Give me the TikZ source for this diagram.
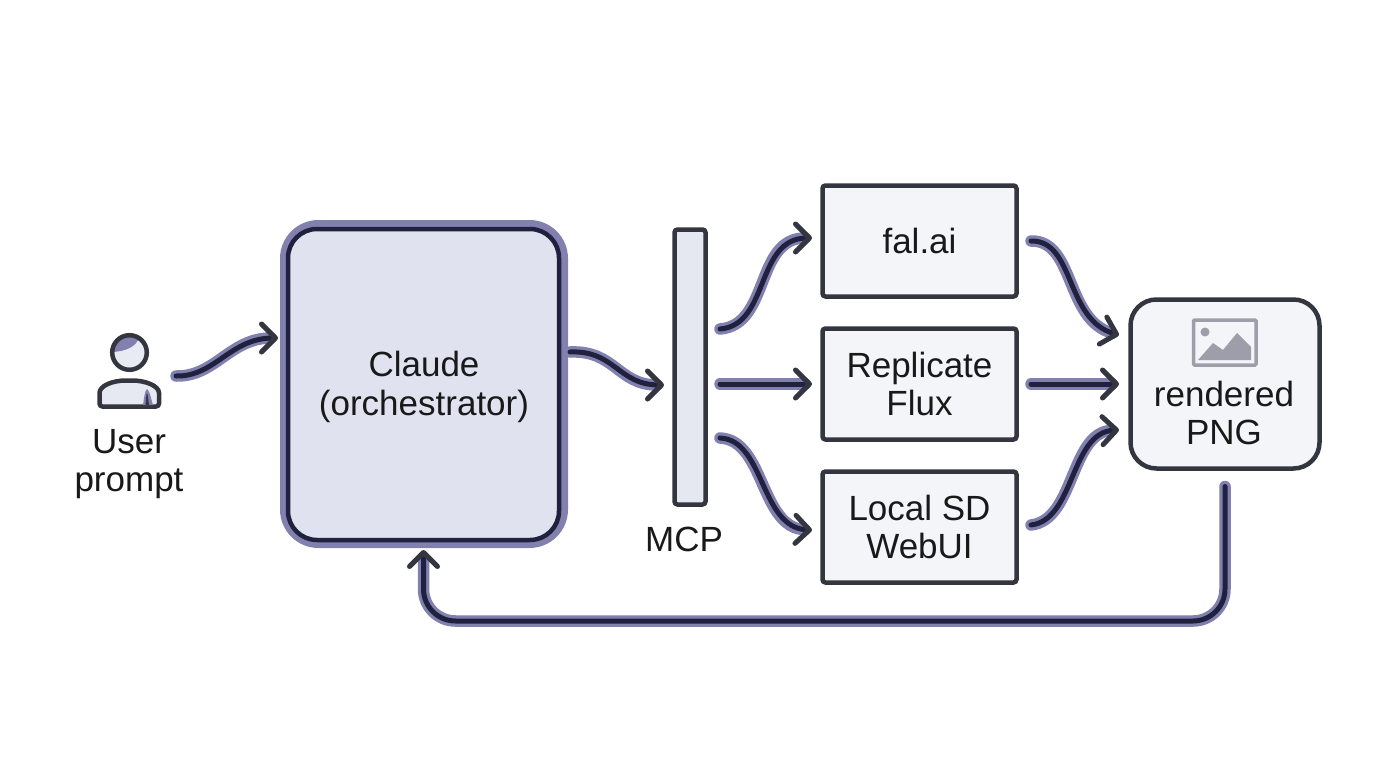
\documentclass[tikz,border=0pt]{standalone}
\usepackage{fontspec}
\setmainfont{Liberation Sans}
\usetikzlibrary{arrows.meta}
\definecolor{halo}{HTML}{8180AE}
\definecolor{core}{HTML}{20213F}
\definecolor{ink}{HTML}{34363F}
\definecolor{lav}{HTML}{E0E3EF}
\definecolor{pale}{HTML}{F4F5F8}
\definecolor{pict}{HTML}{9D9EA9}
\tikzset{
  lbl/.style={font=\fontsize{35}{38.5}\selectfont, text=black!90, align=center, inner sep=0pt},
  boxn/.style={draw=ink, line width=4.5pt, fill=pale, rounded corners=3pt, outer sep=0pt, inner sep=0pt, minimum width=194pt, minimum height=111pt, lbl},
  conn/.style={line width=5pt, draw=core, line cap=round,
    preaction={draw=halo, line width=11.5pt, line cap=round, shorten >=7pt, -},
    -{Straight Barb[color=ink, length=14pt, width=28pt, line width=5pt, round]}},
}
\begin{document}
\begin{tikzpicture}[x=1pt,y=-1pt]
\useasboundingbox (0,0) rectangle (1376,768);
\fill[white] (0,0) rectangle (1376,768);
% Claude
\node[draw=halo, line width=9pt, fill=none, rounded corners=34pt, minimum width=279pt, minimum height=319pt, outer sep=0pt] (claudehalo) at (424,384) {};
\node[draw=core, line width=4.5pt, fill=lav, rounded corners=29pt, minimum width=271pt, minimum height=311pt, outer sep=0pt] (claude) at (423.5,384.5) {};
\node[lbl] (claudelabel) at (424,387) {Claude\\(orchestrator)};
% MCP
\node[draw=ink, line width=4.5pt, fill=lav!85!white, rounded corners=3pt, minimum width=31pt, minimum height=275pt, outer sep=0pt, inner sep=0pt] (mcp) at (690,367) {};
\node[lbl] (mcplabel) at (684,539) {MCP};
% providers
\node[boxn] (fal) at (919.5,241) {fal.ai};
\node[boxn] (rep) at (919.5,384) {Replicate\\Flux};
\node[boxn] (loc) at (919.5,527) {Local SD\\WebUI};
% rendered
\node[draw=ink, line width=4.5pt, fill=pale, rounded corners=26pt, minimum width=189pt, minimum height=169pt, outer sep=0pt] (png) at (1225,384) {};
\node[lbl] (pnglabel) at (1224,413) {rendered\\PNG};
\draw[pict, line width=3.5pt, fill=pale, rounded corners=1pt] (1193.5,320) rectangle (1256,365);
\fill[pict] (1198,360) -- (1213,343) -- (1223,350) -- (1237,333) -- (1251,347) -- (1251,360) -- cycle;
\fill[pict] (1205,332) circle (4.5pt);
% user icon
\node[minimum width=63pt, minimum height=74pt, inner sep=0pt, outer sep=0pt] (usericon) at (129.5,371) {};
\node[lbl] (userlabel) at (129,464) {User\\prompt};
\fill[lav!70!white] (129.5,352.5) circle (17.3pt);
\fill[halo] (112.5,352) .. controls (113,342) and (122,335) .. (129.5,335) .. controls (137,335) and (143,339) .. (146,346) .. controls (143,343) and (141,341) .. (138,340) .. controls (135,346) and (128,351) .. (112.5,352) -- cycle;
\draw[ink, line width=4.5pt] (129.5,352.5) circle (17.3pt);
\draw[ink, line width=4.5pt, fill=lav!80!white, rounded corners=3pt] (99.5,406.5) -- (99.5,396) .. controls (99.5,386) and (112,380.5) .. (129,380.5) .. controls (146,380.5) and (159,386) .. (159,396) -- (159,406.5) -- cycle;
\fill[halo] (143,405) .. controls (144,398) and (145,390) .. (147,389) .. controls (150,391) and (151,399) .. (153,405) -- cycle;
\fill[ink] (145.5,405) -- (146.5,394) -- (147.5,394) -- (149,405) -- cycle;
% connectors
\draw[conn] ([shift={(15,5)}]usericon.east) .. controls (215,377) and (230,338) .. ([shift={(-10,-46.5)}]claude.west);
\draw[conn] ([shift={(11,-32.5)}]claude.east) .. controls (615,350) and (618,385) .. ([shift={(-10.5,18)}]mcp.west);
\draw[conn] ([shift={(14.5,-38)}]mcp.east) .. controls (770,325) and (755,238) .. ([shift={(-10.5,-3)}]fal.west);
\draw[conn] ([shift={(14.5,17)}]mcp.east) -- ([shift={(-10.5,0)}]rep.west);
\draw[conn] ([shift={(14.5,71)}]mcp.east) .. controls (765,440) and (760,528) .. ([shift={(-10.5,3)}]loc.west);
\draw[conn] ([shift={(14.5,0)}]fal.east) .. controls (1075,240) and (1065,320) .. ([shift={(-11.5,-49)}]png.west);
\draw[conn] ([shift={(14.5,0)}]rep.east) -- ([shift={(-11.5,0)}]png.west);
\draw[conn] ([shift={(14.5,-2)}]loc.east) .. controls (1075,520) and (1070,432) .. ([shift={(-11.5,46)}]png.west);
\coordinate (loopR) at (1225,621);
\coordinate (loopL) at (423.5,621);
\draw[conn, rounded corners=32pt] ([shift={(0,18)}]png.south) -- (loopR) -- (loopL) -- ([shift={(0,10)}]claude.south);
\end{tikzpicture}
\end{document}
